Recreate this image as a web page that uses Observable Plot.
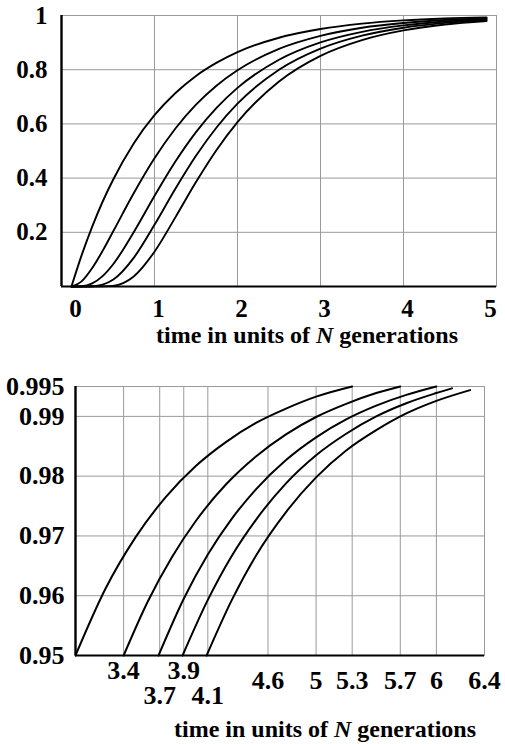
<!DOCTYPE html>
<html><head><meta charset="utf-8">
<script src="https://cdn.jsdelivr.net/npm/d3@7"></script>
<script src="https://cdn.jsdelivr.net/npm/@observablehq/plot@0.6"></script>
<style>body{margin:0;background:#fff} svg{display:block}</style>
</head><body><div id="chart"></div>
<script>
// ---- top panel data ----
const tTop = [0, 0.125, 0.25, 0.375, 0.5, 0.75, 1, 1.25, 1.5, 1.75, 2, 2.5, 3, 3.5, 4, 4.5, 5];
const top1 = [0, 0.1175, 0.221, 0.3127, 0.393, 0.528, 0.632, 0.713, 0.777, 0.826, 0.865, 0.918, 0.950, 0.970, 0.982, 0.989, 0.993];
const top2 = [0, 0.0198, 0.068, 0.1314, 0.202, 0.344, 0.473, 0.582, 0.671, 0.742, 0.798, 0.877, 0.925, 0.955, 0.9725, 0.9833, 0.9899];
const top3 = [0, 0.001, 0.0115, 0.0383, 0.0813, 0.2003, 0.334, 0.460, 0.5695, 0.660, 0.733, 0.8366, 0.9006, 0.9396, 0.9634, 0.9778, 0.9865];
const top4 = [0, 0, 0.0009, 0.0068, 0.0246, 0.1058, 0.2277, 0.3598, 0.4824, 0.5877, 0.6746, 0.800, 0.878, 0.9259, 0.955, 0.9727, 0.9835];
const top5 = [0, 0, 0, 0.0004, 0.0025, 0.0371, 0.1283, 0.2542, 0.3852, 0.5047, 0.6064, 0.7565, 0.8512, 0.9094, 0.9451, 0.9667, 0.9798];
const topXTicks = [0, 1, 2, 3, 4, 5];
const topYTicks = [0.2, 0.4, 0.6, 0.8, 1];
const topGridX = [1, 2, 3, 4];

// ---- bottom panel data ----
const bt1 = [3.0, 3.25, 3.5, 3.75, 4.0, 4.25, 4.5, 4.75, 5.0, 5.3];
const bp1 = [0.95, 0.9612, 0.9698, 0.9765, 0.9817, 0.9857, 0.9889, 0.9913, 0.9933, 0.9950];
const bt2 = [3.4, 3.6, 3.8, 4.0, 4.25, 4.5, 4.75, 5.0, 5.25, 5.5, 5.7];
const bp2 = [0.95, 0.9590, 0.9664, 0.9725, 0.9786, 0.9833, 0.9870, 0.9899, 0.9921, 0.9939, 0.9950];
const bt3 = [3.69, 3.9, 4.1, 4.3, 4.5, 4.75, 5.0, 5.25, 5.5, 5.75, 6.0];
const bp3 = [0.95, 0.9595, 0.9669, 0.9729, 0.9778, 0.9827, 0.9865, 0.9895, 0.9918, 0.9936, 0.9950];
const bt4 = [3.89, 4.1, 4.3, 4.5, 4.75, 5.0, 5.25, 5.5, 5.75, 6.0, 6.13];
const bp4 = [0.95, 0.9593, 0.9667, 0.9727, 0.9788, 0.9835, 0.9871, 0.9900, 0.9922, 0.9939, 0.9947];
const bt5 = [4.09, 4.3, 4.5, 4.75, 5.0, 5.25, 5.5, 5.75, 6.0, 6.28];
const bp5 = [0.95, 0.9593, 0.9667, 0.9740, 0.9798, 0.9843, 0.9877, 0.9905, 0.9926, 0.9944];
const botTicksRowA = [3.4, 3.9];
const botTicksRowB = [3.7, 4.1];
const botTicksRowC = [4.6, 5, 5.3, 5.7, 6, 6.4];
const botYTicks = [0.95, 0.96, 0.97, 0.98, 0.99, 0.995];
const botGridX = [3.4, 3.7, 3.9, 4.1, 4.6, 5, 5.3, 5.7, 6];
const botGridY = [0.96, 0.97, 0.98, 0.99, 0.995];
const xTitle = "time in units of N generations";

function rows(ts, ps, s) { return ts.map((t, i) => ({t, p: ps[i], s})); }
const topData = [top1, top2, top3, top4, top5].flatMap((ps, k) => rows(tTop, ps, k));
const botData = [[bt1, bp1], [bt2, bp2], [bt3, bp3], [bt4, bp4], [bt5, bp5]].flatMap(([ts, ps], k) => rows(ts, ps, k));

const font = "'Liberation Serif', 'Times New Roman', serif";
const grid = "#9a9a9a";

const topPlot = Plot.plot({
  width: 505, height: 350,
  marginTop: 15, marginBottom: 64, marginLeft: 61, marginRight: 9,
  style: {fontFamily: font, fontWeight: "bold", fontSize: "26px", background: "white", overflow: "visible"},
  x: {domain: [-0.12, 5.12], axis: null},
  y: {domain: [0, 1], axis: null},
  marks: [
    Plot.frame({stroke: grid, strokeWidth: 1}),
    Plot.ruleX(topGridX, {stroke: grid, strokeWidth: 1}),
    Plot.ruleY(topYTicks, {stroke: grid, strokeWidth: 1}),
    Plot.line(topData, {x: "t", y: "p", z: "s", stroke: "black", strokeWidth: 1.9, curve: "monotone-x"}),
    Plot.ruleX([-0.12], {stroke: "black", strokeWidth: 2.4}),
    Plot.ruleY([0], {stroke: "black", strokeWidth: 2.2}),
    Plot.text(topXTicks, {x: d => d, text: d => String(d), frameAnchor: "bottom", lineAnchor: "middle", dy: 22, dx: 4, fontSize: 25}),
    Plot.text(topYTicks, {y: d => d, text: d => String(d), frameAnchor: "left", textAnchor: "end", lineAnchor: "middle", dx: -14, fontSize: 25}),
    Plot.text([xTitle], {text: d => d, frameAnchor: "bottom", lineAnchor: "middle", dy: 49, dx: 28, fontSize: 24})
  ]
});

const botPlot = Plot.plot({
  width: 505, height: 394,
  marginTop: 36, marginBottom: 89, marginLeft: 75, marginRight: 21,
  style: {fontFamily: font, fontWeight: "bold", fontSize: "26px", background: "white", overflow: "visible"},
  x: {domain: [3.0, 6.4], axis: null},
  y: {domain: [0.95, 0.995], axis: null},
  marks: [
    Plot.frame({stroke: grid, strokeWidth: 1}),
    Plot.ruleX(botGridX, {stroke: grid, strokeWidth: 1}),
    Plot.ruleY(botGridY, {stroke: grid, strokeWidth: 1}),
    Plot.line(botData, {x: "t", y: "p", z: "s", stroke: "black", strokeWidth: 2, curve: "monotone-x"}),
    Plot.ruleX([3.0], {stroke: "black", strokeWidth: 2.4}),
    Plot.ruleY([0.95], {stroke: "black", strokeWidth: 2.2}),
    Plot.text(botTicksRowA, {x: d => d, text: d => String(d), frameAnchor: "bottom", lineAnchor: "middle", dy: 15, fontSize: 26}),
    Plot.text(botTicksRowB, {x: d => d, text: d => String(d), frameAnchor: "bottom", lineAnchor: "middle", dy: 40, fontSize: 26}),
    Plot.text(botTicksRowC, {x: d => d, text: d => String(d), frameAnchor: "bottom", lineAnchor: "middle", dy: 25, fontSize: 26}),
    Plot.text(botYTicks, {y: d => d, text: d => String(d), frameAnchor: "left", textAnchor: "end", lineAnchor: "middle", dx: -11, fontSize: 26}),
    Plot.text([xTitle], {text: d => d, frameAnchor: "bottom", lineAnchor: "middle", dy: 74, dx: 45, fontSize: 24})
  ]
});

const chart = document.getElementById("chart");
chart.appendChild(topPlot);
chart.appendChild(botPlot);

// italic N in the axis titles
d3.selectAll("svg text").each(function() {
  if (this.textContent === xTitle) {
    d3.select(this).html('time in units of <tspan font-style="italic">N</tspan> generations');
  }
});
</script></body></html>
